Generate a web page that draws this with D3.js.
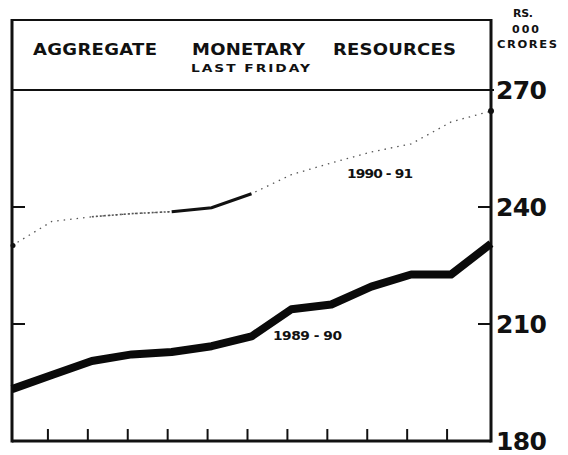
<!DOCTYPE html>
<html lang="en">
<head>
<meta charset="UTF-8">
<title>Aggregate Monetary Resources</title>
<script src="https://d3js.org/d3.v7.min.js"></script>
<style>
  html, body { margin: 0; padding: 0; background: #fff; }
  svg { display: block; }
  text { font-family: "DejaVu Sans", sans-serif; fill: #111; }
</style>
</head>
<body>
<svg id="chart" width="568" height="455"></svg>
<script>
// Rs '000 crores, last Friday of each week
const weeks = [1, 2, 3, 4, 5, 6, 7, 8, 9, 10, 11, 12, 13];
const fy8990 = [193.3, 196.9, 200.5, 202.2, 202.8, 204.3, 206.8, 213.8, 215.0, 219.6, 222.7, 222.7, 230.6];
const fy9091 = [230.1, 236.3, 237.5, 238.3, 238.8, 239.8, 243.4, 248.3, 251.3, 254.1, 256.2, 261.8, 264.6];
const yTicks = [180, 210, 240, 270];
const xTicks = [2, 3, 4, 5, 6, 7, 8, 9, 10, 11, 12];

const frameLeft = 12, frameRight = 491, frameTop = 20;

const svg = d3.select("#chart");

const x = d3.scaleLinear().domain([1, 13]).range([frameLeft, frameRight]);
const y = d3.scaleLinear().domain([180, 270]).range([441, 90]);

// stretched lettering, fitted to a given width
function label(sel, str, px, py, width, size, stretch) {
  return sel.append("text")
    .attr("transform", `translate(${px},${py}) scale(${stretch},1)`)
    .attr("font-size", size).attr("font-weight", "bold")
    .attr("textLength", width / stretch).attr("lengthAdjust", "spacing")
    .text(str);
}

// frame
svg.append("line").attr("x1", frameLeft).attr("x2", frameRight).attr("y1", frameTop).attr("y2", frameTop)
  .attr("stroke", "#111").attr("stroke-width", 2);
svg.append("line").attr("x1", frameLeft).attr("x2", frameLeft).attr("y1", frameTop - 1).attr("y2", y(180) + 1.5)
  .attr("stroke", "#111").attr("stroke-width", 3);
svg.append("line").attr("x1", frameRight).attr("x2", frameRight).attr("y1", frameTop - 1).attr("y2", y(180) + 1.5)
  .attr("stroke", "#111").attr("stroke-width", 3);
svg.append("line").attr("x1", frameLeft).attr("x2", frameRight).attr("y1", y(180)).attr("y2", y(180))
  .attr("stroke", "#111").attr("stroke-width", 3);
svg.append("line").attr("x1", frameLeft).attr("x2", frameRight + 3).attr("y1", y(270)).attr("y2", y(270))
  .attr("stroke", "#111").attr("stroke-width", 2);

// inner ticks on both sides
const midTicks = yTicks.filter(d => d > 180 && d < 270);
svg.append("g").selectAll("line").data(midTicks).join("line")
  .attr("x1", frameLeft).attr("x2", frameLeft + 13)
  .attr("y1", d => y(d)).attr("y2", d => y(d))
  .attr("stroke", "#111").attr("stroke-width", 2);
svg.append("g").selectAll("line").data(midTicks).join("line")
  .attr("x1", frameRight - 13).attr("x2", frameRight)
  .attr("y1", d => y(d)).attr("y2", d => y(d))
  .attr("stroke", "#111").attr("stroke-width", 2);

// bottom ticks
svg.append("g").selectAll("line").data(xTicks).join("line")
  .attr("x1", d => x(d) - 4).attr("x2", d => x(d) - 4)
  .attr("y1", y(180)).attr("y2", y(180) - 12)
  .attr("stroke", "#111").attr("stroke-width", 2);

// y labels on the right
svg.append("g").selectAll("text").data(yTicks).join("text")
  .attr("x", 496).attr("y", d => y(d) + 9)
  .attr("font-size", 25).attr("font-weight", "bold")
  .attr("textLength", 51).attr("lengthAdjust", "spacing")
  .text(d => d);

// unit label
label(svg, "RS.", 513, 17, 20, 10, 1.1);
label(svg, "000", 512, 33, 27, 10, 1.1);
label(svg, "CRORES", 497, 48, 60, 10, 1.15);

// title
label(svg, "AGGREGATE", 33, 55, 124, 15, 1.2);
label(svg, "MONETARY", 192, 55, 113, 15, 1.2);
label(svg, "RESOURCES", 333, 55, 123, 15, 1.2);
label(svg, "LAST FRIDAY", 191, 72, 119, 11, 1.25);

// lines
const line = d3.line().x(d => x(d[0])).y(d => y(d[1]));
const pts8990 = weeks.map((w, i) => [w, fy8990[i]]);
const pts9091 = weeks.map((w, i) => [w, fy9091[i]]);

// 1990-91: faint dotted trace with a denser stretch in the middle
svg.append("path").datum(pts9091)
  .attr("fill", "none").attr("stroke", "#555").attr("stroke-width", 1.3)
  .attr("stroke-dasharray", "1.5,5").attr("d", line);
svg.append("path").datum(pts9091.slice(2, 5))
  .attr("fill", "none").attr("stroke", "#555").attr("stroke-width", 1.6)
  .attr("stroke-dasharray", "2,2").attr("d", line);
svg.append("path").datum(pts9091.slice(4, 7))
  .attr("fill", "none").attr("stroke", "#111").attr("stroke-width", 3).attr("d", line);
svg.append("circle").attr("cx", x(weeks[12])).attr("cy", y(fy9091[12])).attr("r", 3).attr("fill", "#111");
svg.append("circle").attr("cx", x(weeks[0]) + 1).attr("cy", y(fy9091[0])).attr("r", 2.5).attr("fill", "#111");

// 1989-90: heavy line
svg.append("path").datum(pts8990)
  .attr("fill", "none").attr("stroke", "#0a0a0a").attr("stroke-width", 8)
  .attr("stroke-linejoin", "round").attr("d", line);

// series labels
label(svg, "1990 - 91", 347, 178, 66, 12, 1.15);
label(svg, "1989 - 90", 273, 340, 69, 12, 1.15);
</script>
</body>
</html>
